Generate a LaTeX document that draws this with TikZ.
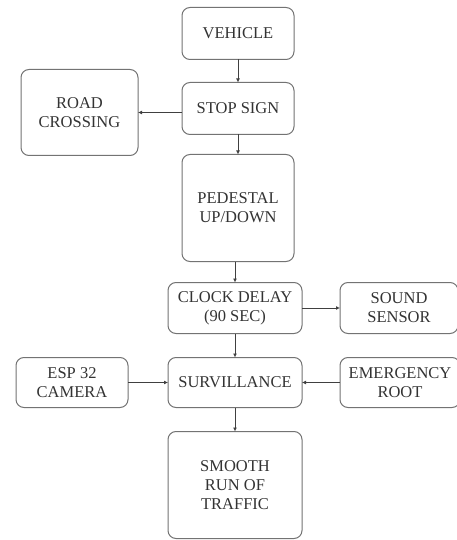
\documentclass[tikz,border=0pt]{standalone}
\usepackage{fontspec}
\setmainfont{Liberation Serif}
\usepackage{tikz}
\usetikzlibrary{positioning,arrows.meta}
\tikzstyle{block}=[rectangle,rounded corners=8pt,draw=black!55,line width=1pt,fill=white,text=black!80,align=center,inner sep=2pt,outer sep=0pt,font=\fontsize{16.5}{19}\selectfont]
\tikzstyle{small}=[block,minimum width=112pt,minimum height=52pt]
\tikzstyle{wide}=[block,minimum width=134pt,minimum height=51pt]
\tikzstyle{tall}=[block,minimum width=112pt,minimum height=107pt]
\tikzstyle{mypath}=[draw=black!75,line width=0.8pt,-{Latex[length=4pt,width=4pt]}]
\def\stepdist{21pt}
\def\sidedist{39pt}
\begin{document}
\begin{tikzpicture}[x=1pt,y=-1pt]
		\useasboundingbox (0,0) rectangle (457,540);
		% main chain
		\node[small] (vehicle) at (238,33.5) {VEHICLE};
		\node[small,below=23pt of vehicle] (stopsign) {STOP SIGN};
		\node[tall,below=20pt of stopsign] (pedestal) {PEDESTAL\\UP/DOWN};
		\node[wide,below=\stepdist of pedestal,xshift=-3pt] (clock) {CLOCK DELAY\\(90 SEC)};
		\node[wide,minimum height=50pt,below=24pt of clock] (surv) {SURVILLANCE};
		\node[wide,minimum height=107pt,below=24pt of surv] (smooth) {SMOOTH\\RUN OF\\TRAFFIC};

		% side blocks
		\node[small,minimum width=117pt,minimum height=86pt,left=44pt of stopsign,yshift=-4pt] (crossing) {ROAD\\CROSSING};
		\node[small,minimum width=118pt,minimum height=51pt,right=38pt of clock] (sound) {SOUND\\SENSOR};
		\node[small,minimum height=50pt,left=40pt of surv] (camera) {ESP 32\\CAMERA};
		\node[small,minimum width=120pt,minimum height=50pt,right=38pt of surv] (emergency) {EMERGENCY\\ROOT};

		% Connections
		\draw[mypath] (vehicle) -- (stopsign);
		\draw[mypath] (stopsign.west |- crossing.east) -- (crossing.east);
		\draw[mypath] (stopsign) -- (pedestal);
		\draw[mypath] (pedestal.south -| clock) -- (clock);
		\draw[mypath] (clock) -- (sound);
		\draw[mypath] (clock) -- (surv);
		\draw[mypath] (camera) -- (surv);
		\draw[mypath] (emergency) -- (surv);
		\draw[mypath] (surv) -- (smooth);
	\end{tikzpicture}
\end{document}
